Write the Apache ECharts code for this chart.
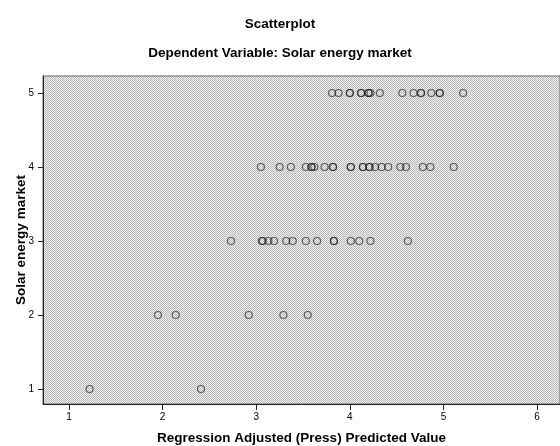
<!DOCTYPE html>
<html><head><meta charset="utf-8">
<script src="https://cdn.jsdelivr.net/npm/echarts@6/dist/echarts.min.js"></script>
<style>html,body{margin:0;padding:0;background:#fff}#c{width:560px;height:446px}</style>
</head><body><div id="c"></div>
<script>
const titleText = 'Scatterplot';
const subtitleText = 'Dependent Variable: Solar energy market';
const xName = 'Regression Adjusted (Press) Predicted Value';
const yName = 'Solar energy market';
const xTicks = [1, 2, 3, 4, 5, 6];
const yTicks = [1, 2, 3, 4, 5];
// predicted values per observed level (duplicates = overlapping points)
const xAtY1 = [1.22, 2.41];
const xAtY2 = [1.95, 2.14, 2.92, 3.29, 3.55];
const xAtY3 = [2.73, 3.06, 3.07, 3.13, 3.19, 3.32, 3.39, 3.53, 3.65, 3.83, 3.83, 4.01, 4.10, 4.22, 4.62];
const xAtY4 = [3.05, 3.25, 3.37, 3.53, 3.59, 3.59, 3.62, 3.73, 3.82, 3.82, 4.01, 4.01, 4.14, 4.14, 4.21, 4.21, 4.27, 4.34, 4.41, 4.54, 4.60, 4.78, 4.86, 5.11];
const xAtY5 = [3.81, 3.88, 4.00, 4.00, 4.12, 4.12, 4.20, 4.20, 4.22, 4.32, 4.56, 4.68, 4.76, 4.76, 4.87, 4.96, 4.96, 5.21];

const levels = [[1, xAtY1], [2, xAtY2], [3, xAtY3], [4, xAtY4], [5, xAtY5]];
const points = [];
levels.forEach(([y, xs]) => xs.forEach(x => points.push([x, y])));

// dotted background pattern
const pc = document.createElement('canvas');
pc.width = 2; pc.height = 2;
const g = pc.getContext('2d');
g.fillStyle = '#f0f0f0'; g.fillRect(0, 0, 2, 2);
g.fillStyle = '#b8b8b8'; g.fillRect(0, 0, 1, 1); g.fillRect(1, 1, 1, 1);

const font = 'Liberation Sans, Arial, sans-serif';
const chart = echarts.init(document.getElementById('c'), null, {renderer: 'canvas'});
chart.setOption({
  animation: false,
  backgroundColor: '#fff',
  title: [
    {text: titleText, left: 'center', top: 12, textStyle: {fontFamily: font, fontSize: 13.5, fontWeight: 'bold', color: '#000'}},
    {text: subtitleText, left: 'center', top: 41, textStyle: {fontFamily: font, fontSize: 13.5, fontWeight: 'bold', color: '#000'}}
  ],
  grid: {left: 43, top: 76, right: 0, bottom: 42, outerBoundsMode: 'none', containLabel: false, show: true, backgroundColor: {image: pc, repeat: 'repeat'}, borderColor: '#666', borderWidth: 1},
  xAxis: {
    type: 'value', min: 0.722, max: 6.245,
    name: xName, nameLocation: 'middle', nameGap: 27, nameMoveOverlap: false,
    nameTextStyle: {fontFamily: font, fontSize: 13.5, fontWeight: 'bold', color: '#000'},
    axisLine: {show: true, lineStyle: {color: '#222', width: 1}},
    axisTick: {show: true, length: 6, lineStyle: {color: '#222'}, customValues: xTicks},
    axisLabel: {fontFamily: font, fontSize: 10, color: '#000', margin: 8, customValues: xTicks},
    splitLine: {show: false}
  },
  yAxis: {
    type: 'value', min: 0.797, max: 5.23,
    name: yName, nameLocation: 'middle', nameGap: 15, nameRotate: 90, nameMoveOverlap: false,
    nameTextStyle: {fontFamily: font, fontSize: 13.5, fontWeight: 'bold', color: '#000'},
    axisLine: {show: true, lineStyle: {color: '#222', width: 1}},
    axisTick: {show: true, length: 5, lineStyle: {color: '#222'}, customValues: yTicks},
    axisLabel: {fontFamily: font, fontSize: 10, color: '#000', margin: 9, customValues: yTicks},
    splitLine: {show: false}
  },
  series: [{
    type: 'scatter', data: points, symbol: 'circle', symbolSize: 7,
    itemStyle: {color: 'transparent', borderColor: 'rgba(25,25,25,0.8)', borderWidth: 1.2},
    emphasis: {disabled: true}
  }]
});
</script></body></html>
